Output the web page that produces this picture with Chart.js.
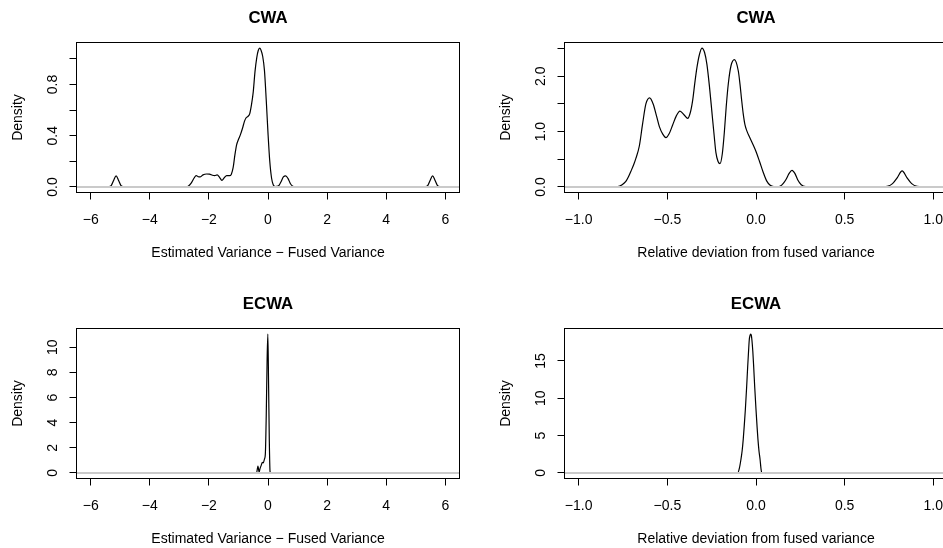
<!DOCTYPE html>
<html>
<head>
<meta charset="utf-8">
<title>CWA / ECWA densities</title>
<script src="https://cdn.jsdelivr.net/npm/chart.js@4.4.1/dist/chart.umd.min.js"></script>
<style>
  html, body { margin: 0; padding: 0; background: #fff; overflow: hidden; width: 943px; height: 548px; }
  canvas { position: absolute; }
  #c1 { left: 0; top: 0; }
  #c2 { left: 488px; top: 0; }
  #c3 { left: 0; top: 286px; }
  #c4 { left: 488px; top: 286px; }
</style>
</head>
<body>
<canvas id="c1" width="488" height="286"></canvas>
<canvas id="c2" width="488" height="286"></canvas>
<canvas id="c3" width="488" height="286"></canvas>
<canvas id="c4" width="488" height="286"></canvas>
<script>
// density curves
// CWA: estimated variance - fused variance
const cwaDiffX = [-5.52, -5.38, -5.30, -5.22, -5.14, -5.06, -4.98, -4.90, -4.76,
  -2.82, -2.70, -2.60, -2.50, -2.43, -2.36, -2.30, -2.20, -2.08, -1.98, -1.88, -1.80, -1.72, -1.64, -1.56,
  -1.48, -1.40, -1.30, -1.24, -1.18, -1.12, -1.06, -1.00, -0.93, -0.86, -0.80, -0.74, -0.68, -0.62, -0.56,
  -0.50, -0.44, -0.38, -0.33, -0.28, -0.24, -0.18, -0.12, -0.06, 0.00, 0.06, 0.12, 0.18, 0.24, 0.30,
  0.38, 0.45, 0.52, 0.60, 0.68, 0.76, 0.84, 0.94,
  5.20, 5.33, 5.41, 5.49, 5.57, 5.65, 5.73, 5.81, 5.94];
const cwaDiffY = [0, 0.002, 0.013, 0.053, 0.087, 0.053, 0.013, 0.002, 0,
  0, 0.006, 0.03, 0.07, 0.089, 0.08, 0.078, 0.094, 0.101, 0.1, 0.091, 0.088, 0.094, 0.075, 0.052,
  0.072, 0.089, 0.088, 0.1, 0.15, 0.25, 0.33, 0.37, 0.41, 0.46, 0.51, 0.54, 0.55, 0.57, 0.64,
  0.74, 0.90, 1.01, 1.065, 1.084, 1.07, 1.02, 0.91, 0.68, 0.42, 0.20, 0.07, 0.015, 0.003, 0.004,
  0.015, 0.045, 0.078, 0.087, 0.065, 0.025, 0.005, 0,
  0, 0.002, 0.013, 0.053, 0.087, 0.053, 0.013, 0.002, 0];

// CWA: relative deviation from fused variance
const cwaRelX = [-0.82, -0.78, -0.755, -0.734, -0.72, -0.706, -0.69, -0.677, -0.658, -0.64, -0.621, -0.60,
  -0.58, -0.56, -0.545, -0.525, -0.508, -0.49, -0.47, -0.45, -0.429, -0.405, -0.385, -0.37, -0.357,
  -0.345, -0.333, -0.32, -0.305, -0.29, -0.277, -0.262, -0.248, -0.236, -0.226, -0.214, -0.203, -0.19,
  -0.179, -0.168, -0.156, -0.141, -0.122, -0.10, -0.09, -0.081, -0.072, -0.062, -0.05, -0.038, -0.019,
  0.00, 0.02, 0.04, 0.06, 0.08, 0.10, 0.12, 0.14, 0.155, 0.17, 0.186, 0.203, 0.22, 0.235, 0.255, 0.28, 0.31,
  0.70, 0.74, 0.77, 0.797, 0.824, 0.851, 0.878, 0.908, 0.95];
const cwaRelY = [0, 0.005, 0.04, 0.10, 0.18, 0.28, 0.40, 0.52, 0.74, 1.13, 1.50, 1.61,
  1.50, 1.27, 1.09, 0.95, 0.89, 0.96, 1.12, 1.28, 1.37, 1.30, 1.24, 1.35, 1.57,
  1.88, 2.16, 2.38, 2.51, 2.43, 2.22, 1.80, 1.33, 0.93, 0.62, 0.46, 0.42, 0.60,
  0.97, 1.45, 1.87, 2.19, 2.30, 2.10, 1.85, 1.57, 1.32, 1.12, 1.00, 0.91, 0.78,
  0.64, 0.46, 0.27, 0.11, 0.03, 0.005, 0.003, 0.02, 0.07, 0.14, 0.24, 0.30, 0.24, 0.13, 0.04, 0.005, 0,
  0, 0.01, 0.06, 0.17, 0.29, 0.17, 0.06, 0.01, 0];

// ECWA: estimated variance - fused variance
const ecwaDiffX = [-0.42, -0.385, -0.34, -0.30, -0.27, -0.23, -0.19, -0.16, -0.12, -0.09, -0.06, -0.03,
  -0.005, 0.02, 0.045, 0.07, 0.10];
const ecwaDiffY = [0, 0.02, 0.55, 0.05, 0.35, 0.6, 0.85, 0.8, 1.1, 1.5, 4.5, 9.0,
  11.05, 7.0, 2.5, 0.1, 0];

// ECWA: relative deviation from fused variance
const ecwaRelX = [-0.13, -0.103, -0.094, -0.085, -0.078, -0.072, -0.066, -0.06, -0.053, -0.047, -0.042,
  -0.038, -0.034, -0.03, -0.026, -0.023, -0.018, -0.013, -0.007, 0.0, 0.006, 0.011, 0.017, 0.023,
  0.028, 0.032, 0.05];
const ecwaRelY = [0, 0.02, 0.6, 1.8, 3.0, 4.5, 6.4, 8.5, 11.4, 14.2, 16.3,
  17.8, 18.4, 18.6, 18.4, 17.8, 16.3, 14.2, 11.4, 8.5, 6.2, 4.5, 2.9, 1.8,
  0.6, 0.05, 0];

// axes
const diffLim = [-6, 6];
const diffTicks = [-6, -4, -2, 0, 2, 4, 6];
const diffTickLabels = ['\u22126', '\u22124', '\u22122', '0', '2', '4', '6'];
const relLim = [-1, 1];
const relTicks = [-1, -0.5, 0, 0.5, 1];
const relTickLabels = ['\u22121.0', '\u22120.5', '0.0', '0.5', '1.0'];

const cwaDiffYTicks = [0, 0.2, 0.4, 0.6, 0.8, 1.0];
const cwaDiffYLabels = ['0.0', '', '0.4', '', '0.8', ''];
const cwaRelYTicks = [0, 0.5, 1.0, 1.5, 2.0, 2.5];
const cwaRelYLabels = ['0.0', '', '1.0', '', '2.0', ''];
const ecwaDiffYTicks = [0, 2, 4, 6, 8, 10];
const ecwaDiffYLabels = ['0', '2', '4', '6', '8', '10'];
const ecwaRelYTicks = [0, 5, 10, 15];
const ecwaRelYLabels = ['0', '5', '10', '15'];

const diffTitle = 'Estimated Variance \u2212 Fused Variance';
const relTitle = 'Relative deviation from fused variance';

Chart.defaults.font.family = "'Liberation Sans', Arial, Helvetica, sans-serif";
Chart.defaults.color = '#000';

// frame around the plot region, like R's box()
const boxPlugin = {
  id: 'box',
  afterDraw(chart) {
    const a = chart.chartArea, ctx = chart.ctx;
    ctx.save();
    ctx.strokeStyle = '#000';
    ctx.lineWidth = 1;
    ctx.strokeRect(a.left, a.top, a.right - a.left, a.bottom - a.top);
    ctx.restore();
  }
};

function densityPanel(id, title, xs, ys, xlim, xTicks, xLabels, yTicks, yLabels, xTitle, yPad) {
  // R style 4% extension of the ranges
  const xr = (xlim[1] - xlim[0]) * 0.04;
  const yMax = Math.max(...ys);
  const yr = yMax * 0.04;
  const pts = xs.map((x, i) => ({ x: x, y: ys[i] }));

  new Chart(document.getElementById(id), {
    type: 'line',
    data: {
      datasets: [
        // zero line; dataset 0 is painted last, so it sits over the curve
        { data: [{ x: xlim[0] - xr, y: 0 }, { x: xlim[1] + xr, y: 0 }], xAxisID: 'x', yAxisID: 'y', borderColor: '#cacaca', borderWidth: 2, pointRadius: 0 },
        { data: pts, xAxisID: 'x', yAxisID: 'y', borderColor: '#000', borderWidth: 1.2, pointRadius: 0, cubicInterpolationMode: 'monotone' }
      ]
    },
    options: {
      responsive: false,
      animation: false,
      devicePixelRatio: 1,
      layout: { padding: { left: 0, right: 28.5, top: 0, bottom: 0 } },
      plugins: {
        legend: { display: false },
        tooltip: { enabled: false }
      },
      scales: {
        x: {
          type: 'linear', bounds: 'data',
          min: xlim[0] - xr, max: xlim[1] + xr,
          afterBuildTicks: s => { s.ticks = xTicks.map(v => ({ value: v })); },
          afterFit: s => { s.height = 93.5; },
          ticks: { autoSkip: false, maxRotation: 0, padding: 12, font: { size: 14 }, callback: (v, i) => xLabels[i] },
          grid: { drawOnChartArea: false, drawTicks: true, tickLength: 7, color: '#000' },
          border: { display: false },
          title: { display: true, text: xTitle, font: { size: 14 }, padding: { top: 0, bottom: 24.6 } }
        },
        y: {
          type: 'linear', bounds: 'data',
          min: -yr, max: yMax + yr,
          afterBuildTicks: s => { s.ticks = yTicks.map(v => ({ value: v })); },
          afterFit: s => { s.width = 76.5; },
          ticks: { autoSkip: false, minRotation: 90, maxRotation: 90, crossAlign: 'center', padding: yPad, font: { size: 14 }, callback: (v, i) => yLabels[i] },
          grid: { drawOnChartArea: false, drawTicks: true, tickLength: 7, color: '#000' },
          border: { display: false },
          title: { display: true, text: 'Density', font: { size: 14 }, padding: { top: 9.3, bottom: 0 } }
        },
        // main title as a bare top axis so it centres over the plot region
        top: {
          type: 'linear', axis: 'x', position: 'top', display: true,
          ticks: { display: false },
          grid: { display: false, drawTicks: false },
          border: { display: false },
          afterFit: s => { s.height = 42.5; },
          title: { display: true, text: title, font: { size: 16.8, weight: 'bold' }, padding: { top: 7.9, bottom: 0 } }
        }
      }
    },
    plugins: [boxPlugin]
  });
}

densityPanel('c1', 'CWA', cwaDiffX, cwaDiffY, diffLim, diffTicks, diffTickLabels, cwaDiffYTicks, cwaDiffYLabels, diffTitle, 6.5);
densityPanel('c2', 'CWA', cwaRelX, cwaRelY, relLim, relTicks, relTickLabels, cwaRelYTicks, cwaRelYLabels, relTitle, 6.5);
densityPanel('c3', 'ECWA', ecwaDiffX, ecwaDiffY, diffLim, diffTicks, diffTickLabels, ecwaDiffYTicks, ecwaDiffYLabels, diffTitle, 8.5);
densityPanel('c4', 'ECWA', ecwaRelX, ecwaRelY, relLim, relTicks, relTickLabels, ecwaRelYTicks, ecwaRelYLabels, relTitle, 8.5);
</script>
</body>
</html>
